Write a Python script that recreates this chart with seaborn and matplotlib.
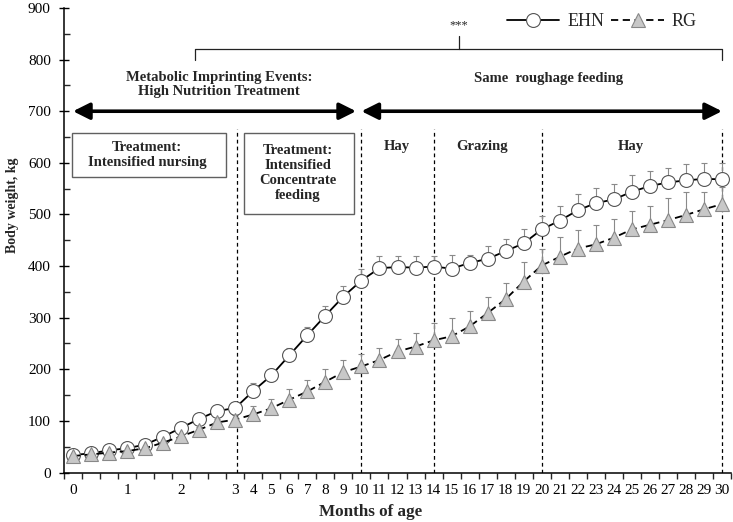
import numpy as np
import pandas as pd
import seaborn as sns
import matplotlib.pyplot as plt
from matplotlib.patches import Rectangle

sns.set_theme(style="ticks")
plt.rcParams['font.family'] = ['Liberation Serif', 'DejaVu Serif']

# Tick labels (months of age) for each sampling point
age_labels = ['0', '', '', '1', '', '', '2', '', '', '3'] + [str(m) for m in range(4, 31)]

# Body weight means (kg) and upper SD
ehn_mean = [34, 37, 43, 47, 54, 69.5, 86.5, 104, 119, 125,
            158, 188, 227, 266, 304, 341, 372, 396, 398, 397,
            399, 395, 406, 414, 429, 444, 471, 488, 508, 522,
            529, 544, 555, 562, 566, 569, 568]
ehn_err = [3, 3, 4, 4, 5, 5, 6, 7, 7, 8,
           16, 12, 14, 15, 18, 21, 23, 23, 21, 22,
           20, 26, 15, 25, 23, 27, 26, 28, 32, 30,
           30, 32, 29, 28, 31, 30, 32]
rg_mean = [32, 35, 38.5, 41.5, 47, 58, 70, 83, 97, 102.5,
           112.5, 124.5, 141, 157, 176, 194.5, 205.5, 218, 234.5, 244,
           256, 264, 283, 309, 336, 370, 401, 418, 434, 442,
           455, 471, 480, 489, 499, 510, 520]
rg_err = [2, 2, 3, 3, 4, 5, 6, 6, 7, 8,
          17, 18, 21, 23, 24, 24, 24, 23, 24, 27,
          34, 36, 29, 32, 31, 37, 33, 38, 35, 37,
          37, 35, 36, 42, 44, 34, 34]

# Phase boundaries (position index)
phase_lines = [9.1, 16, 20.05, 26, 36]

df = pd.DataFrame({'idx': np.arange(len(age_labels)),
                   'EHN': ehn_mean, 'RG': rg_mean})

fig = plt.figure(figsize=(7.33, 5.22), dpi=100)
ax = fig.add_axes([64/733, 1-472.5/522, (731-64)/733, (472.5-8)/522])

# error bars (upper only)
ax.errorbar(df.idx, df.EHN, yerr=[np.zeros(len(df)), ehn_err], fmt='none',
            ecolor='#8a8a8a', elinewidth=0.8, capsize=2, capthick=0.8, zorder=2)
ax.errorbar(df.idx, df.RG, yerr=[np.zeros(len(df)), rg_err], fmt='none',
            ecolor='#8a8a8a', elinewidth=0.8, capsize=2, capthick=0.8, zorder=2)

sns.lineplot(x='idx', y='EHN', data=df, ax=ax, color='black', linewidth=1.3,
             marker='o', markersize=10, markerfacecolor='white',
             markeredgecolor='#555555', markeredgewidth=0.8, label='EHN', zorder=3)
sns.lineplot(x='idx', y='RG', data=df, ax=ax, color='black', linewidth=1.3,
             linestyle=(0, (4, 2.5)), marker='^', markersize=10,
             markerfacecolor='#c8c8c8', markeredgecolor='#888888',
             markeredgewidth=0.8, label='RG', zorder=4)

# dashed phase lines
for xv in phase_lines:
    ax.plot([xv, xv], [0, 665], color='black', lw=0.9, ls=(0, (3, 2.5)), zorder=1)

# axes
ax.set_xlim(-0.5, 36.5)
ax.set_ylim(0, 900)
ax.set_xticks(np.arange(len(age_labels)))
ax.set_xticklabels(age_labels)
ax.set_xticks(np.arange(-0.5, 37, 1), minor=True)
ax.tick_params(axis='x', which='major', length=0, pad=8, labelsize=11)
ax.tick_params(axis='x', which='minor', direction='out', length=4, width=1)
ax.set_yticks(np.arange(0, 901, 100))
ax.set_yticks(np.arange(50, 900, 100), minor=True)
ax.tick_params(axis='y', which='major', direction='inout', length=7, width=1,
               pad=6, labelsize=11)
ax.tick_params(axis='y', which='minor', direction='in', length=4, width=1)
ax.tick_params(colors='black')
sns.despine(ax=ax)
for s in ['left', 'bottom']:
    ax.spines[s].set_linewidth(1.1)
    ax.spines[s].set_color('black')

ax.set_xlabel('Months of age', fontsize=12.3, fontweight='bold')
ax.xaxis.set_label_coords(0.459, -0.085)
ax.xaxis.label.set_va('center')
ax.set_ylabel('Body weight, kg', fontsize=10, fontweight='bold')
ax.yaxis.set_label_coords(-0.0765, 0.576)
ax.yaxis.label.set_va('center')

# big arrows
arrow_style = "<|-|>,head_length=0.5,head_width=0.25"
ax.annotate('', xy=(0, 700), xytext=(15.7, 700),
            arrowprops=dict(arrowstyle=arrow_style, mutation_scale=20,
                            lw=2.6, color='black', shrinkA=0, shrinkB=0))
ax.annotate('', xy=(16.0, 700), xytext=(36.0, 700),
            arrowprops=dict(arrowstyle=arrow_style, mutation_scale=20,
                            lw=2.6, color='black', shrinkA=0, shrinkB=0))

bold = dict(fontsize=10.5, fontweight='bold', ha='center', va='center')
ax.text(8.1, 752, 'Metabolic Imprinting Events:\nHigh Nutrition Treatment',
        linespacing=1.15, **bold)
ax.text(26.4, 764, 'Same  roughage feeding', **bold)

# bracket with significance
ax.plot([6.77, 6.77, 21.4, 21.4], [799, 820, 820, 846], color='#222222', lw=0.9)
ax.plot([21.4, 36.0, 36.0], [820, 820, 799], color='#222222', lw=0.9)
ax.text(21.4, 866, '***', fontsize=9, ha='center', va='center')

# treatment boxes
ax.add_patch(Rectangle((-0.07, 573), 8.54, 85.6, fill=False,
                       edgecolor='#606060', lw=1, zorder=5))
ax.text(4.12, 615, 'Treatment:\nIntensified nursing', linespacing=1.2, **bold)
ax.add_patch(Rectangle((9.48, 500), 6.1, 158.6, fill=False,
                       edgecolor='#606060', lw=1, zorder=5))
ax.text(12.46, 580, 'Treatment:\nIntensified\nConcentrate\nfeeding',
        linespacing=1.2, **bold)

ax.text(17.95, 632, 'Hay', **bold)
ax.text(22.7, 632, 'Grazing', **bold)
ax.text(30.95, 632, 'Hay', **bold)

# legend
handles, labels = ax.get_legend_handles_labels()
ax.legend(handles, labels, ncol=2, frameon=False, fontsize=13,
          loc='center right', bbox_to_anchor=(697/733, 1 - 22/522),
          bbox_transform=fig.transFigure, borderpad=0, borderaxespad=0,
          handlelength=2.9, handletextpad=0.45, columnspacing=0.4)

fig.savefig('out.png', dpi=100)
